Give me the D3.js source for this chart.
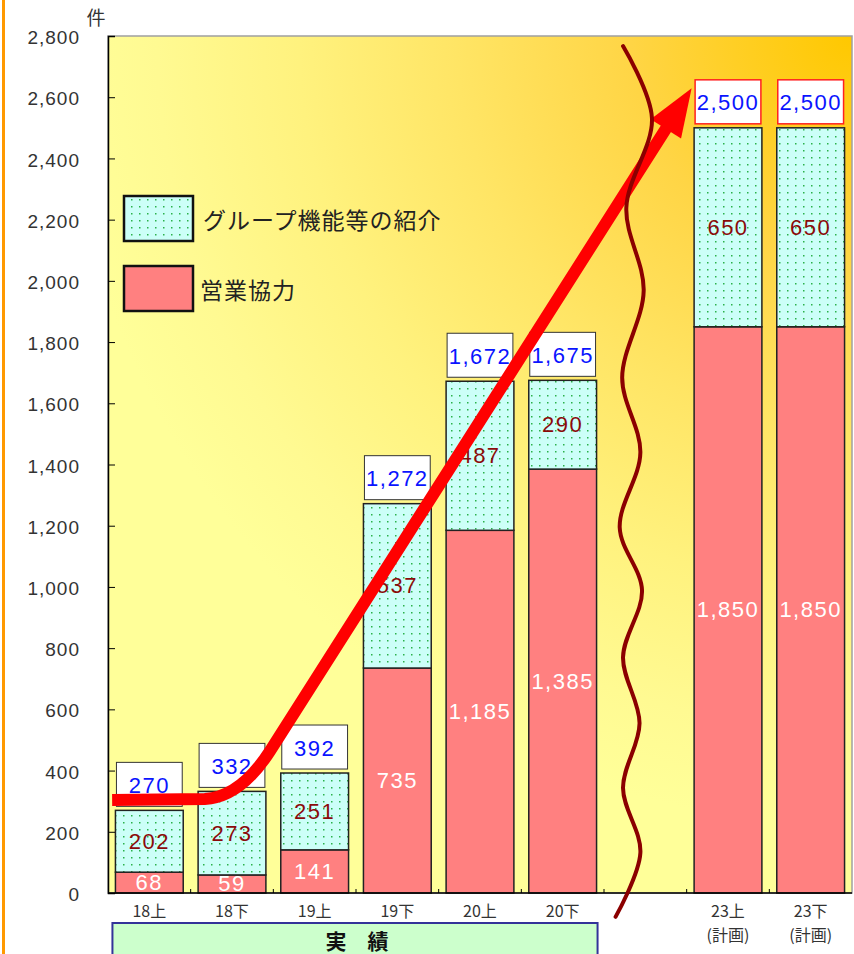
<!DOCTYPE html>
<html lang="ja">
<head>
<meta charset="utf-8">
<script src="https://cdn.jsdelivr.net/npm/d3@7"></script>
<style>
  html, body { margin: 0; padding: 0; background: #fff; }
  svg { display: block; }
  .num { font-family: "Liberation Sans", Arial, sans-serif; }
  .jp { font-family: "Noto Sans CJK JP", "Noto Sans", sans-serif; }
</style>
</head>
<body>
<svg id="chart" width="854" height="954"></svg>
<script>
// Half-year periods (blank slot marks the break before the plan years)
const categories = ["18上", "18下", "19上", "19下", "20上", "20下", "", "23上", "23下"];
const planNotes  = ["", "", "", "", "", "", "", "(計画)", "(計画)"];

// 営業協力 (lower segment) and グループ機能等の紹介 (upper segment)
const salesCoop  = [68, 59, 141, 735, 1185, 1385, null, 1850, 1850];
const groupIntro = [202, 273, 251, 537, 487, 290, null, 650, 650];
const totals     = [270, 332, 392, 1272, 1672, 1675, null, 2500, 2500];

const seriesNames = ["グループ機能等の紹介", "営業協力"];
const yTickValues = [0, 200, 400, 600, 800, 1000, 1200, 1400, 1600, 1800, 2000, 2200, 2400, 2600, 2800];
const unitLabel = "件";
const actualLabel = "実　績";
const actualSpan = [0, 5];   // first and last period covered by the 実績 bracket

// Trend arrow: [slot position, value]; start, bend start, bend control, bend end, tip
const arrowPath = [[-0.45, 304], [0.67, 307], [1.10, 313], [1.46, 464], [6.56, 2629]];
// Break line in the empty slot: [slot position, value]
const breakLine = [
  [5.73, 2767], [6.08, 2532], [5.77, 2239], [5.98, 1968], [5.72, 1684], [5.94, 1439],
  [5.69, 1194], [5.96, 989], [5.73, 770], [5.93, 555], [5.73, 343], [5.94, 131], [5.64, -78]
];

const svg = d3.select("#chart");
const plot = { left: 108, right: 852, top: 36, bottom: 893 };

const x = d3.scaleBand()
  .domain(categories.map((c, i) => i))
  .range([plot.left, plot.right])
  .paddingInner(0.18)
  .paddingOuter(0.09);
const y = d3.scaleLinear().domain([0, 2800]).range([plot.bottom, plot.top]);
const bw = x.bandwidth();
const step = x.step();
const center = i => x(i) + bw / 2;
const slotX = u => center(0) + u * step;

const defs = svg.append("defs");
const bg = defs.append("radialGradient")
  .attr("id", "bgGrad")
  .attr("gradientUnits", "userSpaceOnUse")
  .attr("cx", plot.right).attr("cy", plot.top).attr("r", 790);
[[0, "#FFC800"], [0.28, "#FFD545"], [0.5, "#FFE565"], [0.7, "#FFF27E"], [0.88, "#FFFA92"], [1, "#FFFF99"]]
  .forEach(([o, c]) => bg.append("stop").attr("offset", o).attr("stop-color", c));

// sparse dot fill for the upper segment
const dots = defs.append("pattern")
  .attr("id", "dots").attr("patternUnits", "userSpaceOnUse")
  .attr("width", 8).attr("height", 7);
dots.append("rect").attr("width", 8).attr("height", 7).attr("fill", "#CCFFF8");
dots.append("rect").attr("x", 3).attr("y", 3).attr("width", 1.5).attr("height", 1.5).attr("fill", "#2BB24A");

// orange frame edge on the left
svg.append("line").attr("x1", 3.5).attr("x2", 3.5).attr("y1", 0).attr("y2", 954)
  .attr("stroke", "#FF9900").attr("stroke-width", 3);

// plot background
svg.append("rect")
  .attr("x", plot.left).attr("y", plot.top)
  .attr("width", plot.right - plot.left).attr("height", plot.bottom - plot.top)
  .attr("fill", "url(#bgGrad)").attr("stroke", "#A0A0A0").attr("stroke-width", 1.5);

const idx = categories.map((c, i) => i).filter(i => totals[i] != null);

// stacked bars
svg.append("g").selectAll("rect").data(idx).join("rect")
  .attr("x", i => x(i)).attr("width", bw)
  .attr("y", i => y(salesCoop[i])).attr("height", i => y(0) - y(salesCoop[i]))
  .attr("fill", "#FF8080").attr("stroke", "#222").attr("stroke-width", 1.5);
svg.append("g").selectAll("rect").data(idx).join("rect")
  .attr("x", i => x(i)).attr("width", bw)
  .attr("y", i => y(salesCoop[i] + groupIntro[i]))
  .attr("height", i => y(salesCoop[i]) - y(salesCoop[i] + groupIntro[i]))
  .attr("fill", "url(#dots)").attr("stroke", "#222").attr("stroke-width", 1.5);

// segment value labels
const fmt = d3.format(",");
svg.append("g").selectAll("text").data(idx).join("text")
  .attr("class", "num")
  .attr("x", i => center(i)).attr("y", i => (y(0) + y(salesCoop[i])) / 2)
  .attr("text-anchor", "middle").attr("dominant-baseline", "central")
  .attr("font-size", 22).attr("letter-spacing", 1.5).attr("fill", "#fff")
  .text(i => fmt(salesCoop[i]));
svg.append("g").selectAll("text").data(idx).join("text")
  .attr("class", "num")
  .attr("x", i => center(i)).attr("y", i => (y(salesCoop[i]) + y(salesCoop[i] + groupIntro[i])) / 2)
  .attr("text-anchor", "middle").attr("dominant-baseline", "central")
  .attr("font-size", 22).attr("letter-spacing", 1.5).attr("fill", "#8B0A0A")
  .text(i => fmt(groupIntro[i]));

// total boxes above each bar
const boxH = 44, boxGap = 4;
const totalG = svg.append("g").selectAll("g").data(idx).join("g");
totalG.append("rect")
  .attr("x", i => x(i) + 1).attr("width", bw - 2)
  .attr("y", i => y(totals[i]) - boxGap - boxH).attr("height", boxH)
  .attr("fill", "#fff")
  .attr("stroke", i => planNotes[i] ? "#FF2020" : "#333")
  .attr("stroke-width", i => planNotes[i] ? 1.5 : 1);
totalG.append("text")
  .attr("class", "num")
  .attr("x", i => center(i)).attr("y", i => y(totals[i]) - boxGap - boxH / 2 + 1)
  .attr("text-anchor", "middle").attr("dominant-baseline", "central")
  .attr("font-size", 22).attr("letter-spacing", 1.5).attr("fill", "#0A14FF")
  .text(i => fmt(totals[i]));

// y axis (ticks point into the plot)
const yAxis = svg.append("g")
  .attr("transform", `translate(${plot.left},0)`)
  .call(d3.axisLeft(y).tickValues(yTickValues).tickSize(-7).tickPadding(28).tickFormat(fmt));
yAxis.select(".domain").attr("stroke", "#000").attr("stroke-width", 1.5);
yAxis.selectAll(".tick line").attr("stroke", "#000");
yAxis.selectAll(".tick text")
  .attr("class", "num").attr("font-size", 19).attr("letter-spacing", 1)
  .attr("fill", "#333").attr("dy", "0.4em");

svg.append("text").attr("class", "jp")
  .attr("x", 96).attr("y", 25).attr("text-anchor", "middle")
  .attr("font-size", 19).attr("fill", "#333").text(unitLabel);

// x axis baseline and boundary ticks
svg.append("line")
  .attr("x1", plot.left).attr("x2", plot.right).attr("y1", plot.bottom).attr("y2", plot.bottom)
  .attr("stroke", "#000").attr("stroke-width", 1.5);
svg.append("g").selectAll("line").data(d3.range(1, categories.length)).join("line")
  .attr("x1", i => x(i) - (step - bw) / 2).attr("x2", i => x(i) - (step - bw) / 2)
  .attr("y1", plot.bottom).attr("y2", plot.bottom - 4)
  .attr("stroke", "#000");

// category labels
const catG = svg.append("g").attr("class", "jp").attr("fill", "#333").attr("font-size", 16);
catG.selectAll("text.cat").data(categories.map((c, i) => i)).join("text")
  .attr("class", "cat")
  .attr("x", i => center(i)).attr("y", 917).attr("text-anchor", "middle")
  .text(i => categories[i]);
catG.selectAll("text.note").data(categories.map((c, i) => i).filter(i => planNotes[i])).join("text")
  .attr("class", "note")
  .attr("x", i => center(i)).attr("y", 941).attr("text-anchor", "middle")
  .text(i => planNotes[i]);

// 実績 bracket box
const bx0 = x(actualSpan[0]) - 3, bx1 = x(actualSpan[1]) + bw + 1;
svg.append("rect")
  .attr("x", bx0).attr("y", 923).attr("width", bx1 - bx0).attr("height", 40)
  .attr("fill", "#CCFFCC").attr("stroke", "#333399").attr("stroke-width", 2);
svg.append("text").attr("class", "jp")
  .attr("x", (bx0 + bx1) / 2 + 2).attr("y", 940).attr("text-anchor", "middle")
  .attr("dominant-baseline", "central")
  .attr("font-size", 21).attr("font-weight", "bold").attr("fill", "#111")
  .text(actualLabel);

// legend
const legend = svg.append("g");
const legendRows = [
  { name: seriesNames[0], fill: "url(#dots)", y: 196, tx: 203 },
  { name: seriesNames[1], fill: "#FF8080", y: 266, tx: 200 }
];
legendRows.forEach(r => {
  legend.append("rect").attr("x", 124).attr("y", r.y).attr("width", 69).attr("height", 45)
    .attr("fill", r.fill).attr("stroke", "#111").attr("stroke-width", 2.5);
  legend.append("text").attr("class", "jp")
    .attr("x", r.tx).attr("y", r.y + 23).attr("dominant-baseline", "central")
    .attr("font-size", 23).attr("letter-spacing", 1).attr("fill", "#222").text(r.name);
});

// trend arrow
const P = arrowPath.map(([u, v]) => [slotX(u), y(v)]);
const tip = P[4], from = P[3];
const dx = tip[0] - from[0], dy = tip[1] - from[1];
const len = Math.hypot(dx, dy), ux = dx / len, uy = dy / len;
const headLen = 48, headHalf = 18;
const base = [tip[0] - ux * headLen, tip[1] - uy * headLen];
const lineEnd = [tip[0] - ux * (headLen - 6), tip[1] - uy * (headLen - 6)];
const ap = d3.path();
ap.moveTo(P[0][0], P[0][1]);
ap.lineTo(P[1][0], P[1][1]);
ap.quadraticCurveTo(P[2][0], P[2][1], P[3][0], P[3][1]);
ap.lineTo(lineEnd[0], lineEnd[1]);
svg.append("path").attr("d", ap.toString())
  .attr("fill", "none").attr("stroke", "#FF0000").attr("stroke-width", 12)
  .attr("stroke-linejoin", "round");
svg.append("path")
  .attr("d", `M${tip[0]},${tip[1]}L${base[0] - uy * headHalf},${base[1] + ux * headHalf}L${base[0] + uy * headHalf},${base[1] - ux * headHalf}Z`)
  .attr("fill", "#FF0000");

// break line
svg.append("path")
  .datum(breakLine)
  .attr("d", d3.line().x(d => slotX(d[0])).y(d => y(d[1])).curve(d3.curveCatmullRom.alpha(0.5)))
  .attr("fill", "none").attr("stroke", "#8B0000").attr("stroke-width", 4)
  .attr("stroke-linecap", "round");
</script>
</body>
</html>
